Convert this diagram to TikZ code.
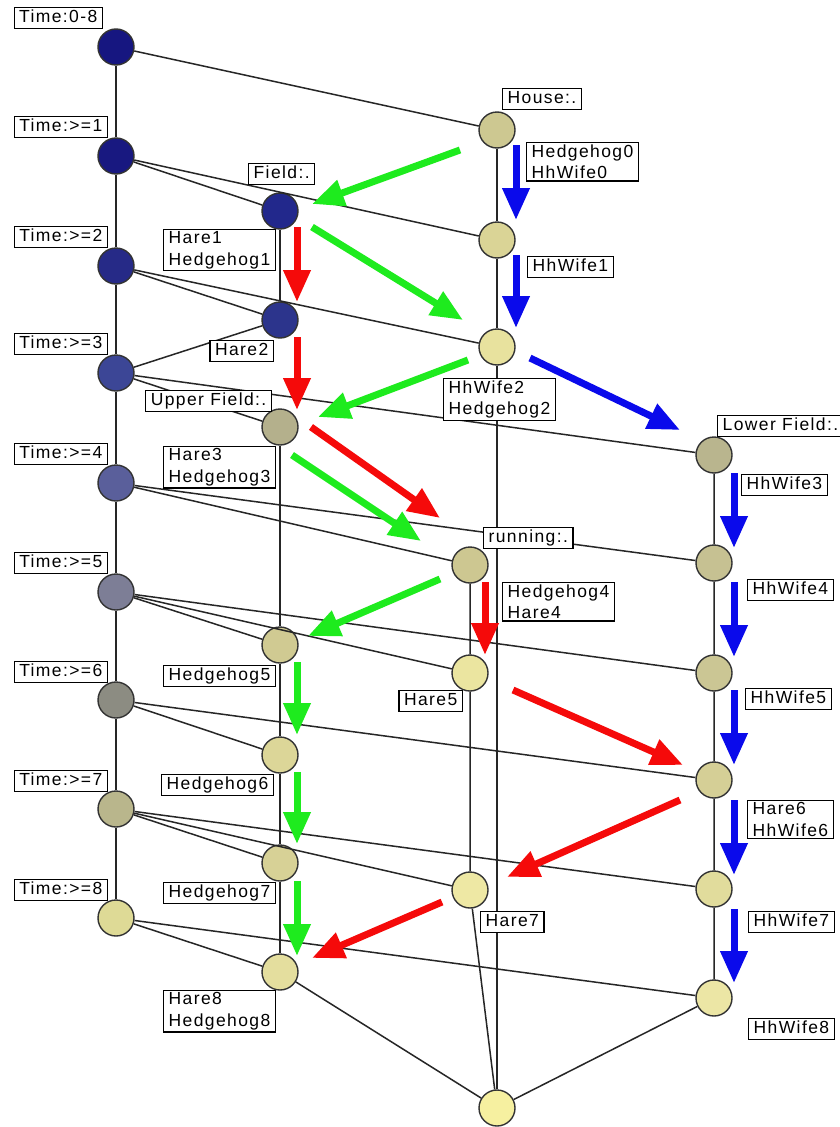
\documentclass[tikz,border=0pt]{standalone}
\usepackage{fontspec}
\setmainfont{Liberation Sans}
\newfontfamily\tagfont[LetterSpace=8]{Liberation Sans}
\usetikzlibrary{arrows.meta}

% node fills, from dark top concepts to pale bottom concepts
\definecolor{cT0}{RGB}{22,22,128}
\definecolor{cT1}{RGB}{24,24,128}
\definecolor{cField}{RGB}{34,40,140}
\definecolor{cT2}{RGB}{38,42,135}
\definecolor{cF2}{RGB}{44,52,140}
\definecolor{cT3}{RGB}{60,70,150}
\definecolor{cT4}{RGB}{90,95,155}
\definecolor{cT5}{RGB}{125,126,150}
\definecolor{cT6}{RGB}{140,140,130}
\definecolor{cT7}{RGB}{185,182,140}
\definecolor{cT8}{RGB}{222,218,150}
\definecolor{cHouse}{RGB}{205,200,145}
\definecolor{cW1}{RGB}{218,212,150}
\definecolor{cW2}{RGB}{232,226,158}
\definecolor{cUF}{RGB}{180,176,140}
\definecolor{cRun}{RGB}{205,199,145}
\definecolor{cLF}{RGB}{185,181,142}
\definecolor{cLF2}{RGB}{198,193,146}
\definecolor{cLF3}{RGB}{203,198,148}
\definecolor{cLF4}{RGB}{213,207,150}
\definecolor{cLF5}{RGB}{225,220,156}
\definecolor{cLF6}{RGB}{236,230,165}
\definecolor{cH5}{RGB}{208,202,146}
\definecolor{cH6}{RGB}{220,214,152}
\definecolor{cH7}{RGB}{215,209,150}
\definecolor{cH8}{RGB}{228,222,158}
\definecolor{cHare5}{RGB}{235,229,160}
\definecolor{cHare7}{RGB}{238,232,164}
\definecolor{cBot}{RGB}{246,240,160}
\definecolor{agreen}{RGB}{30,235,30}
\definecolor{ared}{RGB}{245,10,10}
\definecolor{ablue}{RGB}{10,10,235}

\begin{document}
\begin{tikzpicture}[x=1pt,y=-1pt,
  concept/.style={circle,draw=black!80,line width=1.4pt,minimum size=36pt,inner sep=0pt},
  link/.style={line width=1.5pt,black!85},
  lbl/.style={draw=black,fill=white,line width=1.3pt,inner xsep=5pt,inner ysep=2pt,
    font=\tagfont\fontsize{17.5}{21.5}\selectfont,align=left},
  lbl1/.style={lbl,text height=13pt,text depth=4pt},
  move/.style={line width=7pt,-{Triangle[length=32pt,width=26pt]}},
  gmove/.style={move,agreen},
  rmove/.style={move,ared},
  bmove/.style={move,ablue}]
\useasboundingbox (0,0) rectangle (839,1127);
\fill[white] (0,0) rectangle (839,1127);

% time chain
\node[concept,fill=cT0] (t0) at (116,47) {};
\node[concept,fill=cT1] (t1) at (116,156) {};
\node[concept,fill=cT2] (t2) at (116,266) {};
\node[concept,fill=cT3] (t3) at (116,373) {};
\node[concept,fill=cT4] (t4) at (116,483) {};
\node[concept,fill=cT5] (t5) at (116,592) {};
\node[concept,fill=cT6] (t6) at (116,700) {};
\node[concept,fill=cT7] (t7) at (116,809) {};
\node[concept,fill=cT8] (t8) at (116,918) {};
% field column
\node[concept,fill=cField] (field) at (280,211) {};
\node[concept,fill=cF2] (f2) at (280,320) {};
\node[concept,fill=cUF] (uf) at (280,427) {};
\node[concept,fill=cH5] (h5) at (280,645) {};
\node[concept,fill=cH6] (h6) at (280,755) {};
\node[concept,fill=cH7] (h7) at (280,863) {};
\node[concept,fill=cH8] (h8) at (280,972) {};
% house column
\node[concept,fill=cHouse] (house) at (497,130) {};
\node[concept,fill=cW1] (w1) at (497,240) {};
\node[concept,fill=cW2] (w2) at (497,347) {};
\node[concept,fill=cRun] (run) at (470,565) {};
\node[concept,fill=cHare5] (hare5) at (470,673) {};
\node[concept,fill=cHare7] (hare7) at (470,890) {};
\node[concept,fill=cBot] (bot) at (497,1108) {};
% lower field column
\node[concept,fill=cLF] (lf) at (714,455) {};
\node[concept,fill=cLF2] (lf2) at (714,563) {};
\node[concept,fill=cLF3] (lf3) at (714,673) {};
\node[concept,fill=cLF4] (lf4) at (714,780) {};
\node[concept,fill=cLF5] (lf5) at (714,889) {};
\node[concept,fill=cLF6] (lf6) at (714,998) {};

% lattice edges
\draw[link] (t0) -- (t1) -- (t2) -- (t3) -- (t4) -- (t5) -- (t6) -- (t7) -- (t8);
\draw[link] (t0) -- (house);
\draw[link] (t1) -- (field);
\draw[link] (t1) -- (w1);
\draw[link] (t2) -- (f2);
\draw[link] (t2) -- (w2);
\draw[link] (t3) -- (f2);
\draw[link] (t3) -- (uf);
\draw[link] (t3) -- (lf);
\draw[link] (t4) -- (run);
\draw[link] (t4) -- (lf2);
\draw[link] (t5) -- (h5);
\draw[link] (t5) -- (hare5);
\draw[link] (t5) -- (lf3);
\draw[link] (t6) -- (h6);
\draw[link] (t6) -- (lf4);
\draw[link] (t7) -- (h7);
\draw[link] (t7) -- (hare7);
\draw[link] (t7) -- (lf5);
\draw[link] (t8) -- (h8);
\draw[link] (t8) -- (lf6);
\draw[link] (field) -- (f2);
\draw[link] (uf) -- (h5) -- (h6) -- (h7) -- (h8);
\draw[link] (house) -- (w1) -- (w2) -- (bot);
\draw[link] (run) -- (hare5) -- (hare7) -- (bot);
\draw[link] (lf) -- (lf2) -- (lf3) -- (lf4) -- (lf5) -- (lf6) -- (bot);
\draw[link] (h8) -- (bot);

% labels
\node[lbl1,anchor=north east] (lt0) at (103,7) {Time:0-8};
\node[lbl1,anchor=north east] (lt1) at (108,116) {Time:>=1};
\node[lbl1,anchor=north east] (lt2) at (108,226) {Time:>=2};
\node[lbl1,anchor=north east] (lt3) at (108,333) {Time:>=3};
\node[lbl1,anchor=north east] (lt4) at (108,443) {Time:>=4};
\node[lbl1,anchor=north east] (lt5) at (108,552) {Time:>=5};
\node[lbl1,anchor=north east] (lt6) at (108,661) {Time:>=6};
\node[lbl1,anchor=north east] (lt7) at (108,770) {Time:>=7};
\node[lbl1,anchor=north east] (lt8) at (108,879) {Time:>=8};

\node[lbl1,anchor=north west] (lfield) at (248,163) {Field:.};
\node[lbl,anchor=north east] (lhare1) at (276,229) {Hare1\\Hedgehog1};
\node[lbl1,anchor=north east] (lhare2) at (274,340) {Hare2};
\node[lbl1,anchor=north east] (luf) at (272,390) {Upper Field:.};
\node[lbl,anchor=north east] (lhare3) at (276,446) {Hare3\\Hedgehog3};
\node[lbl1,anchor=north east] (lh5) at (276,665) {Hedgehog5};
\node[lbl1,anchor=north east] (lh6) at (274,774) {Hedgehog6};
\node[lbl1,anchor=north east] (lh7) at (276,882) {Hedgehog7};
\node[lbl,anchor=north east] (lh8) at (276,990) {Hare8\\Hedgehog8};

\node[lbl1,anchor=north west] (lhouse) at (502,88) {House:.};
\node[lbl,anchor=north west] (lhedge0) at (526,142) {Hedgehog0\\HhWife0};
\node[lbl1,anchor=north west] (lw1) at (527,256) {HhWife1};
\node[lbl,anchor=north west] (lw2) at (443,378) {HhWife2\\Hedgehog2};
\node[lbl1,anchor=north west] (lrun) at (483,527) {running:.};
\node[lbl,anchor=north west] (lhedge4) at (502,582) {Hedgehog4\\Hare4};
\node[lbl1,anchor=north east] (lhare5) at (463,690) {Hare5};
\node[lbl1,anchor=north west] (lhare7) at (480,911) {Hare7};

\node[lbl1,anchor=north west] (llf) at (717,415) {Lower Field:.};
\node[lbl1,anchor=north west] (lw3) at (741,474) {HhWife3};
\node[lbl1,anchor=north west] (lw4) at (747,579) {HhWife4};
\node[lbl1,anchor=north west] (lw5) at (745,688) {HhWife5};
\node[lbl,anchor=north west] (lhare6) at (747,800) {Hare6\\HhWife6};
\node[lbl1,anchor=north west] (lw7) at (748,911) {HhWife7};
\node[lbl1,anchor=north west] (lw8) at (748,1018) {HhWife8};

% movement arrows: hedgehog (green), hare (red), hedgehog's wife (blue)
\coordinate (g1s) at (460,150); \coordinate (g1e) at (312,204);
\coordinate (g2s) at (312,227); \coordinate (g2e) at (463,320);
\coordinate (g3s) at (468,360); \coordinate (g3e) at (318,417);
\coordinate (g4s) at (292,455); \coordinate (g4e) at (421,541);
\coordinate (g5s) at (440,579); \coordinate (g5e) at (308,636);
\coordinate (g6s) at (297,662); \coordinate (g6e) at (297,735);
\coordinate (g7s) at (297,772); \coordinate (g7e) at (297,844);
\coordinate (g8s) at (297,881); \coordinate (g8e) at (297,956);
\draw[gmove] (g1s) -- (g1e);
\draw[gmove] (g2s) -- (g2e);
\draw[gmove] (g3s) -- (g3e);
\draw[gmove] (g4s) -- (g4e);
\draw[gmove] (g5s) -- (g5e);
\draw[gmove] (g6s) -- (g6e);
\draw[gmove] (g7s) -- (g7e);
\draw[gmove] (g8s) -- (g8e);

\coordinate (r1s) at (297,227); \coordinate (r1e) at (297,302);
\coordinate (r2s) at (297,337); \coordinate (r2e) at (297,410);
\coordinate (r3s) at (311,427); \coordinate (r3e) at (440,518);
\coordinate (r4s) at (485,582); \coordinate (r4e) at (485,655);
\coordinate (r5s) at (513,690); \coordinate (r5e) at (683,765);
\coordinate (r6s) at (680,800); \coordinate (r6e) at (507,877);
\coordinate (r7s) at (442,902); \coordinate (r7e) at (312,958);
\draw[rmove] (r1s) -- (r1e);
\draw[rmove] (r2s) -- (r2e);
\draw[rmove] (r3s) -- (r3e);
\draw[rmove] (r4s) -- (r4e);
\draw[rmove] (r5s) -- (r5e);
\draw[rmove] (r6s) -- (r6e);
\draw[rmove] (r7s) -- (r7e);

\coordinate (b1s) at (516,145); \coordinate (b1e) at (516,220);
\coordinate (b2s) at (516,255); \coordinate (b2e) at (516,328);
\coordinate (b3s) at (530,358); \coordinate (b3e) at (680,430);
\coordinate (b4s) at (734,473); \coordinate (b4e) at (734,548);
\coordinate (b5s) at (734,582); \coordinate (b5e) at (734,657);
\coordinate (b6s) at (734,690); \coordinate (b6e) at (734,765);
\coordinate (b7s) at (734,800); \coordinate (b7e) at (734,875);
\coordinate (b8s) at (734,909); \coordinate (b8e) at (734,983);
\draw[bmove] (b1s) -- (b1e);
\draw[bmove] (b2s) -- (b2e);
\draw[bmove] (b3s) -- (b3e);
\draw[bmove] (b4s) -- (b4e);
\draw[bmove] (b5s) -- (b5e);
\draw[bmove] (b6s) -- (b6e);
\draw[bmove] (b7s) -- (b7e);
\draw[bmove] (b8s) -- (b8e);
\end{tikzpicture}
\end{document}
